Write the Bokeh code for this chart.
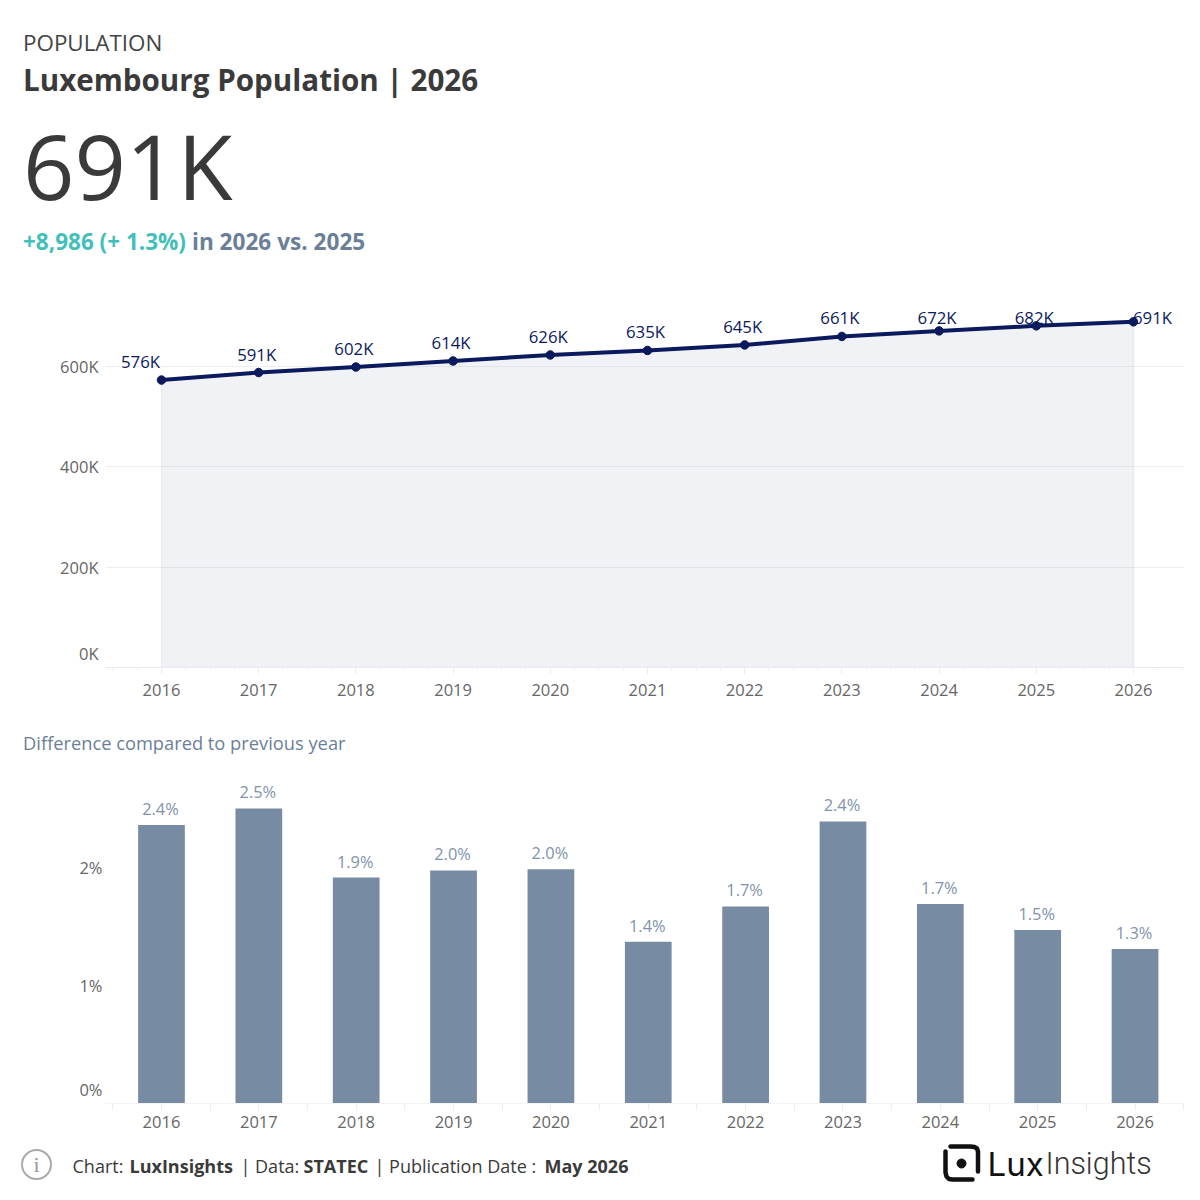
from bokeh.core.properties import value
from bokeh.embed import file_html
from bokeh.resources import INLINE
from bokeh.plotting import figure
from bokeh.layouts import column
from bokeh.models import (ColumnDataSource, Range1d, Label, FixedTicker,
                          SingleIntervalTicker, PrintfTickFormatter)

years = [2016, 2017, 2018, 2019, 2020, 2021, 2022, 2023, 2024, 2025, 2026]
population_k = [573, 588, 599, 611, 623, 632, 643, 660, 671, 681, 689]
population_labels = ["576K", "591K", "602K", "614K", "626K", "635K", "645K", "661K", "672K", "682K", "691K"]
growth_pct = [2.36, 2.50, 1.915, 1.975, 1.985, 1.37, 1.67, 2.39, 1.69, 1.47, 1.31]
growth_labels = ["2.4%", "2.5%", "1.9%", "2.0%", "2.0%", "1.4%", "1.7%", "2.4%", "1.7%", "1.5%", "1.3%"]
pop_ticks = [0, 200, 400, 600]
pct_ticks = [0, 1, 2]

FONT = "Open Sans"
W = 1192
LEFT = 105
RIGHT = 8
NAVY = "#0A1A5C"
SLATE = "#6B7F99"
BAR = "#778CA3"
TEAL = "#43BFBB"
DARK = "#3A3A3A"
TICK = "#666666"
FAINT = "#EAEAEE"
LABEL_CEIL = 698


def canvas(height):
    f = figure(width=W, height=height, output_backend="svg", toolbar_location=None,
               x_range=Range1d(0, W), y_range=Range1d(height, 0),
               min_border=0, outline_line_color=None, frame_align=False)
    f.axis.visible = False
    f.grid.visible = False
    return f


def write(f, x, y, text, size, color, bold=False, font=FONT, align="left"):
    f.add_layout(Label(x=x, y=y, text=text, text_font=font, text_font_size=f"{size}px",
                       text_color=color, text_font_style="bold" if bold else "normal",
                       text_baseline="middle", text_align=align))


def style_y(ax, fmt, standoff):
    ax.formatter = PrintfTickFormatter(format=fmt)
    ax.major_label_text_font = FONT
    ax.major_label_text_font_size = "16.5px"
    ax.major_label_text_color = TICK
    ax.major_label_standoff = standoff
    ax.axis_line_color = None
    ax.major_tick_line_color = None
    ax.minor_tick_line_color = None


# ---------- header
head = canvas(280)
write(head, 22.5, 42, "POPULATION", 22.4, "#444444")
write(head, 22.5, 79, "Luxembourg Population | 2026", 29.6, DARK, bold=True)
write(head, 22.5, 164, "691K", 90, DARK)
write(head, 22.5, 240.5, "+8,986 (+ 1.3%)", 22.5, TEAL, bold=True)
write(head, 191.5, 240.5, "in 2026 vs. 2025", 22.6, SLATE, bold=True)

# ---------- line chart
line_fig = figure(width=W, height=432, output_backend="svg", toolbar_location=None,
                  x_range=Range1d(2015.424, 2026.525), y_range=Range1d(0, 751.5),
                  min_border_left=LEFT, min_border_right=RIGHT, min_border_top=10, min_border_bottom=45,
                  outline_line_color=None, frame_align=False)
line_fig.patch(years + [years[-1], years[0]], population_k + [0, 0],
               fill_color=NAVY, fill_alpha=0.06, line_color=NAVY, line_alpha=0.06, line_width=1.5)
line_fig.line(years, population_k, line_color=NAVY, line_width=4)
line_fig.scatter(years, population_k, size=8.5, color=NAVY)
last = len(years) - 1
for i, (yr, val, lab) in enumerate(zip(years, population_k, population_labels)):
    dx = -21 if i == 0 else (19 if i == last else -2)
    dy = 4 if i == last else min(18.5, (LABEL_CEIL - val) * 0.5017)
    line_fig.add_layout(Label(x=yr, y=val, text=lab, x_offset=dx, y_offset=dy,
                              text_font=FONT, text_font_size="16.8px", text_color=NAVY,
                              text_align="center", text_baseline="middle"))
line_fig.xaxis.ticker = SingleIntervalTicker(interval=1, num_minor_ticks=4)
line_fig.xaxis.major_label_text_font = FONT
line_fig.xaxis.major_label_text_font_size = "16.5px"
line_fig.xaxis.major_label_text_color = TICK
line_fig.xaxis.major_label_standoff = 10
line_fig.xaxis.axis_line_color = FAINT
line_fig.xaxis.major_tick_line_color = FAINT
line_fig.xaxis.minor_tick_line_color = "#F0F0F0"
line_fig.xaxis.major_tick_in = 0
line_fig.xaxis.major_tick_out = 6
line_fig.xaxis.minor_tick_in = 0
line_fig.xaxis.minor_tick_out = 3
line_fig.yaxis.ticker = FixedTicker(ticks=pop_ticks)
style_y(line_fig.yaxis[0], "%dK", 1)
# the zero label sits a line above its tick, as in the reference
line_fig.yaxis.major_label_overrides = {0: "0K\n "}
line_fig.xgrid.visible = False
line_fig.ygrid.grid_line_color = "#EEEEF1"
line_fig.ygrid.ticker = FixedTicker(ticks=pop_ticks[1:])

# ---------- caption
cap = canvas(60)
write(cap, 22.5, 29.5, "Difference compared to previous year", 18.3, SLATE)

# ---------- bar chart
bar_fig = figure(width=W, height=368, output_backend="svg", toolbar_location=None,
                 x_range=Range1d(2015.425, 2026.508), y_range=Range1d(0, 2.805),
                 min_border_left=LEFT, min_border_right=RIGHT, min_border_top=0, min_border_bottom=37,
                 outline_line_color=None, frame_align=False)
src = ColumnDataSource(dict(year=years, pct=growth_pct, label=growth_labels))
bar_fig.vbar(x="year", top="pct", width=0.48, source=src, fill_color=BAR, line_color=None)
bar_fig.text(x="year", y="pct", text="label", source=src, y_offset=-5, x_offset=-1,
             text_font=value(FONT), text_font_size="16.4px", text_color="#7F93AD",
             text_align="center", text_baseline="bottom")
bar_fig.xaxis.ticker = SingleIntervalTicker(interval=1, num_minor_ticks=2)
bar_fig.xaxis.major_label_text_font = FONT
bar_fig.xaxis.major_label_text_font_size = "16.5px"
bar_fig.xaxis.major_label_text_color = TICK
bar_fig.xaxis.major_label_standoff = 5
bar_fig.xaxis.axis_line_color = "#F4F4F4"
bar_fig.xaxis.major_tick_line_color = None
bar_fig.xaxis.minor_tick_line_color = "#EEEEEE"
bar_fig.xaxis.minor_tick_in = 0
bar_fig.xaxis.minor_tick_out = 7
bar_fig.yaxis.ticker = FixedTicker(ticks=pct_ticks)
style_y(bar_fig.yaxis[0], "%d%%", -3)
bar_fig.yaxis.major_label_overrides = {0: "0%\n "}
bar_fig.grid.visible = False

# ---------- footer
foot = canvas(52)
foot.scatter([36], [24], size=29, fill_color=None, line_color="#AAAAAA", line_width=2)
write(foot, 36, 24, "i", 22, "#999999", font="Liberation Serif", align="center")
fy = 25.5
write(foot, 72, fy, "Chart:", 18, DARK)
write(foot, 129, fy, "LuxInsights", 18, DARK, bold=True)
write(foot, 240, fy, "| Data:", 18, DARK)
write(foot, 303, fy, "STATEC", 18, DARK, bold=True)
write(foot, 374, fy, "| Publication Date :", 18, DARK)
write(foot, 544, fy, "May 2026", 18, DARK, bold=True)
# logo mark
foot.line([950, 970, 974, 976.5, 977.5, 977.5], [6, 6, 6.5, 8, 11, 31],
          line_color="#111111", line_width=4.5, line_join="round", line_cap="round")
foot.line([945, 945, 946, 948.5, 952, 972], [11, 32, 36, 38.5, 39, 39],
          line_color="#111111", line_width=4.5, line_join="round", line_cap="round")
foot.scatter([961], [23], size=9, color="#111111")
write(foot, 987, 23, "Lux", 33, "#111111", font="Inter")
write(foot, 1045, 23, "Insights", 30.5, "#333333", font="Roboto Light")

p = column(head, line_fig, cap, bar_fig, foot, spacing=0)
open("out.html", "w").write(file_html(p, INLINE))
